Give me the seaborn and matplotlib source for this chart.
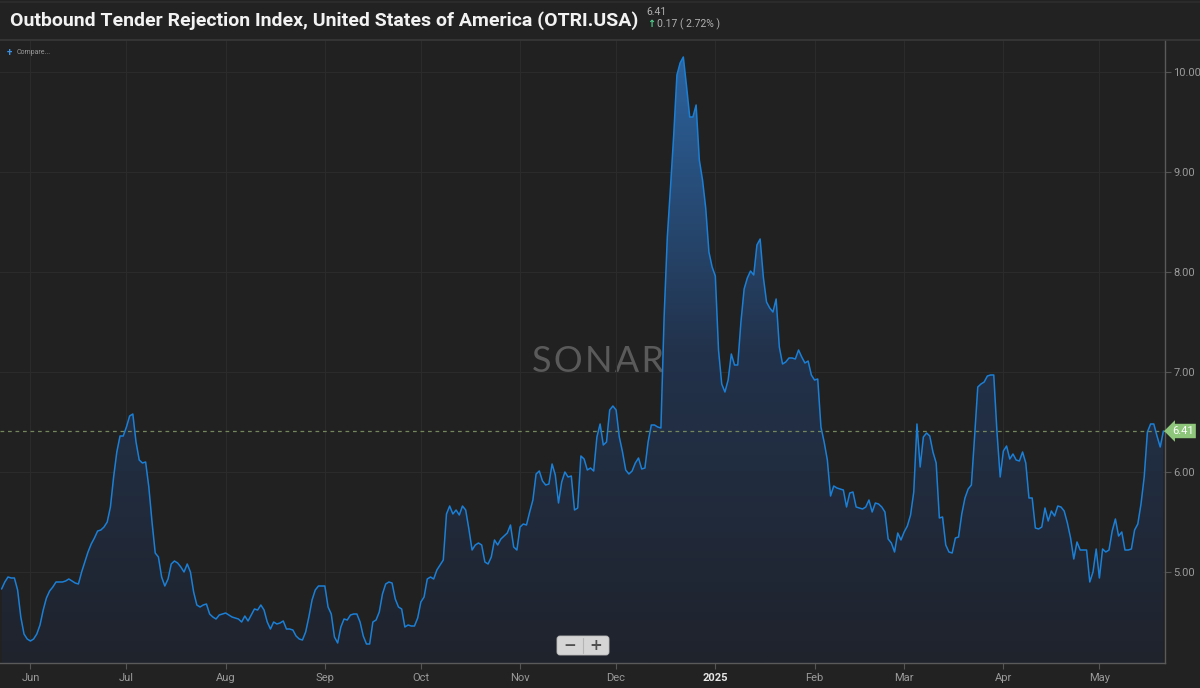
import numpy as np
import pandas as pd
import matplotlib
matplotlib.use("Agg")
import matplotlib.pyplot as plt
import matplotlib.dates as mdates
from matplotlib.colors import LinearSegmentedColormap
from matplotlib.patches import FancyBboxPatch
from matplotlib.lines import Line2D
import seaborn as sns

# %% data: daily OTRI values, starting 2024-05-23
start_date = "2024-05-23"

otri_may23_jul29 = [4.83, 4.90, 4.95, 4.94, 4.94, 4.82, 4.55, 4.38, 4.33, 4.31,
                    4.33, 4.38, 4.47, 4.62, 4.74, 4.81, 4.85, 4.90, 4.90, 4.90,
                    4.91, 4.93, 4.91, 4.89, 4.88, 5.00, 5.10, 5.20, 5.28, 5.34,
                    5.41, 5.42, 5.45, 5.50, 5.65, 5.95, 6.20, 6.36, 6.36, 6.45,
                    6.56, 6.58, 6.30, 6.12, 6.09, 6.10, 5.85, 5.50, 5.19, 5.15,
                    4.95, 4.86, 4.93, 5.08, 5.11, 5.09, 5.05, 5.00, 5.08, 5.00,
                    4.80, 4.67, 4.65, 4.67, 4.68, 4.58, 4.55, 4.53]
otri_jul30_oct03 = [4.57, 4.58, 4.59, 4.57, 4.55, 4.54, 4.53, 4.50, 4.56, 4.51,
                    4.57, 4.63, 4.62, 4.67, 4.62, 4.50, 4.43, 4.50, 4.48, 4.49,
                    4.51, 4.43, 4.43, 4.42, 4.36, 4.33, 4.32, 4.40, 4.55, 4.72,
                    4.82, 4.86, 4.86, 4.86, 4.65, 4.58, 4.35, 4.29, 4.45, 4.53,
                    4.52, 4.57, 4.58, 4.58, 4.50, 4.36, 4.28, 4.28, 4.50, 4.52,
                    4.60, 4.78, 4.88, 4.90, 4.89, 4.73, 4.65, 4.63, 4.45, 4.47,
                    4.46, 4.46, 4.54, 4.70, 4.75, 4.93]
otri_oct04_dec08 = [4.95, 4.93, 5.02, 5.07, 5.12, 5.58, 5.66, 5.58, 5.62, 5.57,
                    5.66, 5.62, 5.43, 5.22, 5.27, 5.29, 5.27, 5.10, 5.08, 5.15,
                    5.32, 5.27, 5.33, 5.36, 5.39, 5.47, 5.25, 5.22, 5.45, 5.48,
                    5.47, 5.60, 5.72, 5.98, 6.01, 5.91, 5.87, 5.88, 6.08, 5.97,
                    5.69, 5.90, 6.00, 5.95, 5.96, 5.62, 5.64, 6.16, 6.13, 6.02,
                    6.04, 6.01, 6.35, 6.48, 6.27, 6.30, 6.62, 6.66, 6.62, 6.35,
                    6.20, 6.02, 5.98, 6.01, 6.09, 6.14]
otri_dec09_feb11 = [6.03, 6.04, 6.30, 6.47, 6.47, 6.45, 6.44, 7.55, 8.35, 8.85,
                    9.37, 9.97, 10.09, 10.15, 9.86, 9.55, 9.55, 9.67, 9.12, 8.92,
                    8.64, 8.20, 8.05, 7.96, 7.22, 6.88, 6.80, 6.92, 7.18, 7.07,
                    7.07, 7.50, 7.83, 7.94, 8.01, 7.97, 8.27, 8.33, 7.95, 7.70,
                    7.64, 7.60, 7.73, 7.25, 7.08, 7.10, 7.14, 7.14, 7.13, 7.22,
                    7.15, 7.09, 7.11, 6.97, 6.92, 6.93, 6.45, 6.30, 6.12, 5.76,
                    5.86, 5.84, 5.83, 5.82, 5.65]
otri_feb12_apr12 = [5.79, 5.80, 5.65, 5.64, 5.63, 5.65, 5.72, 5.60, 5.69, 5.68,
                    5.65, 5.60, 5.33, 5.29, 5.20, 5.39, 5.32, 5.40, 5.46, 5.57,
                    5.80, 6.48, 6.05, 6.35, 6.39, 6.36, 6.20, 6.09, 5.54, 5.55,
                    5.27, 5.20, 5.19, 5.34, 5.35, 5.58, 5.74, 5.83, 5.87, 6.35,
                    6.85, 6.88, 6.90, 6.96, 6.97, 6.97, 6.40, 5.95, 6.21, 6.26,
                    6.13, 6.18, 6.12, 6.11, 6.20, 6.09, 5.74, 5.74, 5.44, 5.43]
otri_apr13_may21 = [5.45, 5.64, 5.51, 5.61, 5.56, 5.66, 5.65, 5.61, 5.49, 5.34,
                    5.13, 5.30, 5.22, 5.22, 5.22, 4.90, 5.00, 5.23, 4.94, 5.23,
                    5.20, 5.22, 5.41, 5.53, 5.36, 5.40, 5.22, 5.22, 5.23, 5.42,
                    5.48, 5.68, 5.95, 6.40, 6.48, 6.48, 6.36, 6.25, 6.41]

last_value = 6.41
change_text = "0.17 ( 2.72% )"
title = "Outbound Tender Rejection Index, United States of America (OTRI.USA)"

month_ticks = ["2024-06-01", "2024-07-01", "2024-08-01", "2024-09-01", "2024-10-01",
               "2024-11-01", "2024-12-01", "2025-01-01", "2025-02-01", "2025-03-01",
               "2025-04-01", "2025-05-01"]
month_labels = ["Jun", "Jul", "Aug", "Sep", "Oct", "Nov", "Dec", "2025",
                "Feb", "Mar", "Apr", "May"]
y_ticks = [5, 6, 7, 8, 9, 10]

values = (otri_may23_jul29 + otri_jul30_oct03 + otri_oct04_dec08
          + otri_dec09_feb11 + otri_feb12_apr12 + otri_apr13_may21)
df = pd.DataFrame({"date": pd.date_range(start_date, periods=len(values), freq="D"),
                   "otri": values})

# %% style
bg = "#222222"
plot_bg = "#212121"
line_col = "#1b7fd6"

sns.set_theme(style="dark", rc={"axes.facecolor": plot_bg, "figure.facecolor": bg})
plt.rcParams["font.family"] = ["Roboto", "DejaVu Sans"]

fig = plt.figure(figsize=(12, 6.88), dpi=100)
ax = fig.add_axes([0, 25 / 688, 1165 / 1200, 623 / 688])
ax.set_facecolor(plot_bg)

ymin, ymax = 4.09, 10.32
x0 = pd.Timestamp("2024-05-22 12:00")
x1 = pd.Timestamp("2025-05-21 12:00")

# watermark behind everything
ax.text(0.513, 0.484, "S\u200aO\u200aN\u200aA\u200aR", transform=ax.transAxes,
        ha="center", va="center", fontsize=26, color="#5a5a5a",
        family=["Lato", "DejaVu Sans"], weight="normal", zorder=0.5)

# line
sns.lineplot(data=df, x="date", y="otri", color=line_col, linewidth=1.1, ax=ax, zorder=4)

# gradient area under the line
xnum = mdates.date2num(df["date"])
poly = ax.fill_between(xnum, df["otri"], ymin, facecolor="none", edgecolor="none")
cmap = LinearSegmentedColormap.from_list("otri", ["#1f232c", "#22324b", "#2c65a2"])
grad = np.linspace(0, 1, 256).reshape(-1, 1)
img = ax.imshow(grad, extent=[xnum[0], xnum[-1], ymin, ymax], origin="lower",
                aspect="auto", cmap=cmap, zorder=2)
img.set_clip_path(poly.get_paths()[0], transform=ax.transData)

# last value line and marker
ax.axhline(last_value, color="#74865c", lw=0.9, ls=(0, (3, 3)), zorder=3)
ax.text(1.006, last_value, f"{last_value:.2f}", transform=ax.get_yaxis_transform(),
        ha="left", va="center", fontsize=8, color="white", zorder=6, clip_on=False,
        bbox=dict(boxstyle="larrow,pad=0.2", fc="#8ec77b", ec="none"))

ax.set_xlim(x0, x1)
ax.set_ylim(ymin, ymax)

# axes
ax.yaxis.tick_right()
ax.set_yticks(y_ticks)
ax.set_yticklabels([f"{v:.2f}" for v in y_ticks])
ax.set_xticks(pd.to_datetime(month_ticks))
ax.set_xticklabels(month_labels)
ax.set_xlabel("")
ax.set_ylabel("")
ax.tick_params(axis="both", colors="#555555", labelcolor="#9a9a9a", labelsize=8,
               length=4, width=0.8, direction="out", pad=3)
ax.tick_params(axis="y", pad=2)
ax.yaxis.set_tick_params(right=True, left=False)
ax.xaxis.set_tick_params(bottom=True, top=False)
for lbl in ax.get_xticklabels():
    if lbl.get_text() == "2025":
        lbl.set_color("#e6e6e6")
        lbl.set_fontweight("bold")

ax.grid(True, color="#2b2b2b", lw=0.8)
for side in ["left", "top"]:
    ax.spines[side].set_visible(False)
for side in ["right", "bottom"]:
    ax.spines[side].set_visible(True)
    ax.spines[side].set_color("#5a5a5a")
    ax.spines[side].set_linewidth(1.0)

# header
fig.add_artist(Line2D([0, 1], [1 - 40 / 688, 1 - 40 / 688], transform=fig.transFigure,
                      color="#383838", lw=1.2))
fig.add_artist(Line2D([0, 1], [1 - 1.5 / 688, 1 - 1.5 / 688], transform=fig.transFigure,
                      color="#2e2e2e", lw=1.2))
fig.text(10 / 1200, 1 - 21 / 688, title, ha="left", va="center", fontsize=14,
         weight="bold", color="#f2f2f2")
fig.text(646 / 1200, 1 - 12 / 688, f"{last_value:.2f}", ha="left", va="center",
         fontsize=7.5, color="#b0b0b0")
fig.text(647 / 1200, 1 - 24 / 688, "\u2191", ha="left", va="center",
         fontsize=7, color="#4fd08c", weight="bold", family=["DejaVu Sans"])
fig.text(657 / 1200, 1 - 24 / 688, change_text, ha="left", va="center",
         fontsize=7.5, color="#b0b0b0")

fig.text(7 / 1200, 1 - 53 / 688, "+", ha="left", va="center", fontsize=7,
         color="#3d8fe0", weight="bold")
fig.text(17 / 1200, 1 - 53 / 688, "Compare...", ha="left", va="center", fontsize=5,
         color="#9a9a9a")

# zoom buttons
btn = FancyBboxPatch((5.57, 0.33), 0.52, 0.19, boxstyle="round,pad=0,rounding_size=0.03",
                     transform=fig.dpi_scale_trans, fc="#d5d5d5", ec="#bdbdbd", lw=0.6)
fig.add_artist(btn)
fig.add_artist(Line2D([5.83, 5.83], [0.35, 0.50], transform=fig.dpi_scale_trans,
                      color="#b5b5b5", lw=0.8))
fig.text(5.70, 0.425, "\u2212", transform=fig.dpi_scale_trans, ha="center", va="center",
         fontsize=11, color="#505050", weight="bold", family=["DejaVu Sans"])
fig.text(5.96, 0.425, "+", transform=fig.dpi_scale_trans, ha="center", va="center",
         fontsize=11, color="#505050", weight="bold", family=["DejaVu Sans"])

fig.savefig("out.png", dpi=100, facecolor=bg)
